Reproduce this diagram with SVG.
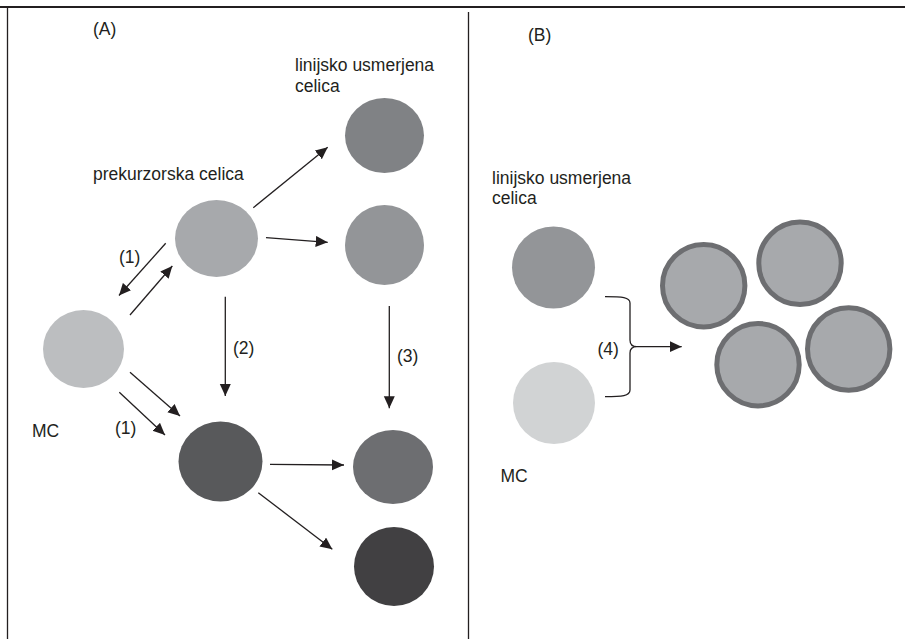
<svg xmlns="http://www.w3.org/2000/svg" width="905" height="639" viewBox="0 0 905 639">
<style>
  text { font-family: "Liberation Sans", Arial, sans-serif; font-size: 17.5px; fill: #231f20; }
  .frame { stroke: #231f20; fill: none; }
  .conn { stroke: #231f20; stroke-width: 1.3; fill: none; }
  .ring { fill: #a7a9ac; stroke: #6d6e71; stroke-width: 5; }
</style>
<defs>
  <marker id="ah" markerUnits="userSpaceOnUse" markerWidth="13" markerHeight="12" refX="12" refY="5.5" orient="auto">
    <path d="M0,0 L12,5.5 L0,11 z" fill="#231f20"/>
  </marker>
</defs>
<rect width="905" height="639" fill="#ffffff"/>
<g id="frame">
  <line class="frame" x1="0" y1="7" x2="905" y2="7" stroke-width="2"/>
  <line class="frame" x1="7.5" y1="6" x2="7.5" y2="639" stroke-width="1.3"/>
  <line class="frame" x1="468.5" y1="12" x2="468.5" y2="639" stroke-width="1.3"/>
</g>
<g id="labels">
  <text x="93" y="35">(A)</text>
  <text x="528" y="41">(B)</text>
</g>
<g id="node-precursor">
  <ellipse cx="216.5" cy="238.5" rx="41.5" ry="38.5" fill="#a7a9ac"/>
  <text x="93" y="179.5">prekurzorska celica</text>
</g>
<g id="node-lin-top">
  <ellipse cx="384.5" cy="135.5" rx="39.5" ry="37.5" fill="#808285"/>
  <text x="295" y="71">linijsko usmerjena</text>
  <text x="295" y="91.5">celica</text>
</g>
<g id="node-lin-2">
  <ellipse cx="384.5" cy="245" rx="39.5" ry="40" fill="#939598"/>
</g>
<g id="node-mc">
  <ellipse cx="83.5" cy="349" rx="40.5" ry="39" fill="#bcbec0"/>
  <text x="32" y="437">MC</text>
</g>
<g id="node-dark">
  <ellipse cx="220.5" cy="461.5" rx="42" ry="40" fill="#58595b"/>
</g>
<g id="node-lin-3">
  <ellipse cx="393" cy="467" rx="40" ry="37" fill="#6d6e71"/>
</g>
<g id="node-lin-4">
  <ellipse cx="394" cy="566.5" rx="40" ry="39.5" fill="#414042"/>
</g>
<g id="node-b-lin">
  <ellipse cx="553.5" cy="267.5" rx="41.5" ry="41" fill="#939598"/>
  <text x="492" y="183.5">linijsko usmerjena</text>
  <text x="492" y="204">celica</text>
</g>
<g id="node-b-mc">
  <ellipse cx="554" cy="403" rx="41" ry="41" fill="#d1d3d4"/>
  <text x="500.5" y="482">MC</text>
</g>
<g id="node-b-cluster">
  <circle class="ring" cx="703.7" cy="285.7" r="41.2"/>
  <circle class="ring" cx="800" cy="263.3" r="41.2"/>
  <circle class="ring" cx="758" cy="364.7" r="41.2"/>
  <circle class="ring" cx="848.7" cy="349" r="41.2"/>
</g>
<g id="connectors">
  <line class="conn" x1="253.3" y1="207.7" x2="327.7" y2="147.3" marker-end="url(#ah)"/>
  <line class="conn" x1="266" y1="237.7" x2="327.7" y2="242.3" marker-end="url(#ah)"/>
  <line class="conn" x1="165.7" y1="243.3" x2="119" y2="295.5" marker-end="url(#ah)"/>
  <line class="conn" x1="130" y1="315" x2="172.3" y2="266" marker-end="url(#ah)"/>
  <line class="conn" x1="225.3" y1="296.7" x2="225.3" y2="396" marker-end="url(#ah)"/>
  <line class="conn" x1="389.3" y1="306" x2="389.3" y2="408.3" marker-end="url(#ah)"/>
  <line class="conn" x1="130" y1="372.3" x2="180" y2="416" marker-end="url(#ah)"/>
  <line class="conn" x1="119.3" y1="392.3" x2="165" y2="435" marker-end="url(#ah)"/>
  <line class="conn" x1="270" y1="464.3" x2="344" y2="465" marker-end="url(#ah)"/>
  <line class="conn" x1="258.3" y1="492.7" x2="332.3" y2="549.3" marker-end="url(#ah)"/>
  <path class="conn" d="M605,296.7 C622,296.7 630,297 630,303 L630,340 C630,344 632,346.7 637,346.7 C632,346.7 630,349 630,353 L630,390 C630,396 622,396.7 605,396.7"/>
  <line class="conn" x1="637" y1="346.7" x2="681.7" y2="346.7" marker-end="url(#ah)"/>
  <text x="119" y="262.5">(1)</text>
  <text x="115" y="434">(1)</text>
  <text x="233" y="354">(2)</text>
  <text x="397" y="362">(3)</text>
  <text x="597.5" y="355">(4)</text>
</g>
</svg>
